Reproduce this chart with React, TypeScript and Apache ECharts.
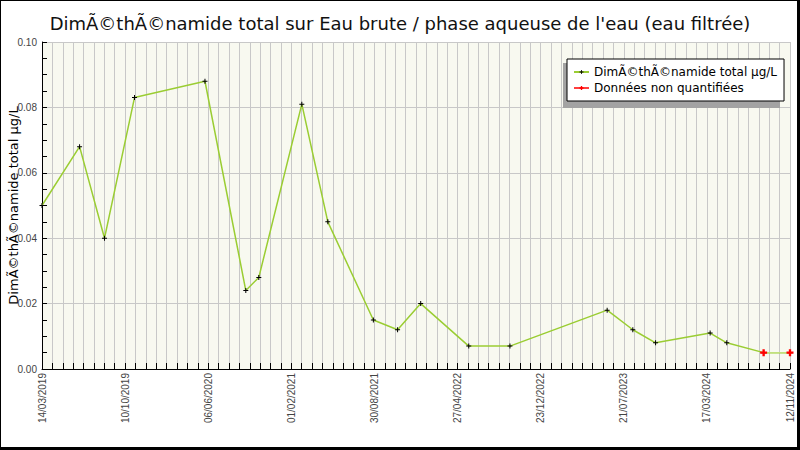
import { useEffect, useRef } from 'react'
import * as echarts from 'echarts'

// measurement dates and values (µg/L)
const dates = [
  '2019-03-14', '2019-06-26', '2019-09-03', '2019-11-25', '2020-06-07',
  '2020-09-28', '2020-11-03', '2021-03-02', '2021-05-13', '2021-09-16',
  '2021-11-22', '2022-01-25', '2022-06-07', '2022-09-29', '2023-06-25',
  '2023-09-04', '2023-11-06', '2024-04-05', '2024-05-21',
]
const values = [
  0.05, 0.068, 0.04, 0.083, 0.088,
  0.024, 0.028, 0.081, 0.045, 0.015,
  0.012, 0.02, 0.007, 0.007, 0.018,
  0.012, 0.008, 0.011, 0.008,
]
// non quantified results
const nqDates = ['2024-08-31', '2024-11-12']
const nqValues = [0.005, 0.005]

const xLabels = [
  '14/03/2019', '10/10/2019', '06/06/2020', '01/02/2021', '30/08/2021',
  '27/04/2022', '23/12/2022', '21/07/2023', '17/03/2024', '12/11/2024',
]
const yTicks = [0, 0.02, 0.04, 0.06, 0.08, 0.1]

const seriesName = 'DimÃ©thÃ©namide total µg/L'
const nqName = 'Données non quantifiées'
const title = "DimÃ©thÃ©namide total sur Eau brute / phase aqueuse de l'eau (eau filtrée)"

const start = Date.parse('2019-03-14')
const dayOf = (s: string) => (Date.parse(s) - start) / 86400000
const axisEnd = dayOf('2024-11-12')
const minorPerLabel = 8
const step = axisEnd / ((xLabels.length - 1) * minorPerLabel)

const cross = 'path://M2,0H3V2H5V3H3V5H2V3H0V2H2Z'
const bigCross = 'path://M2,0H4V2H6V4H4V6H2V4H0V2H2Z'

export default function App() {
  const ref = useRef<HTMLDivElement>(null)

  useEffect(() => {
    if (!ref.current) return
    const chart = echarts.init(ref.current, undefined, { renderer: 'svg' })

    const main = dates.map((d, i) => [dayOf(d), values[i]])
    const nq = nqDates.map((d, i) => [dayOf(d), nqValues[i]])

    chart.setOption({
      animation: false,
      backgroundColor: '#fff',
      title: {
        text: title,
        left: 'center',
        top: 9,
        textStyle: { fontFamily: 'DejaVu Sans', fontSize: 18, fontWeight: 'normal', color: '#111' },
      },
      legend: {
        orient: 'vertical',
        left: 567,
        top: 59,
        backgroundColor: '#fff',
        borderColor: '#000',
        borderWidth: 1,
        borderRadius: 0,
        padding: [7, 7, 7, 6],
        itemWidth: 15,
        itemHeight: 5,
        itemGap: 4,
        textStyle: { fontFamily: 'DejaVu Sans', fontSize: 12, color: '#000' },
        data: [
          { name: seriesName },
          { name: nqName, lineStyle: { color: '#f00', width: 1.5, opacity: 1 } },
        ],
      },
      graphic: [
        { type: 'rect', z: 3, shape: { x: 563, y: 63, width: 217, height: 45 }, style: { fill: '#a3a3a3' } },
        { type: 'rect', z: 10, shape: { x: 0, y: 0, width: 800, height: 1 }, style: { fill: '#000' } },
        { type: 'rect', z: 10, shape: { x: 0, y: 0, width: 1, height: 450 }, style: { fill: '#000' } },
        { type: 'rect', z: 10, shape: { x: 797, y: 0, width: 3, height: 450 }, style: { fill: '#000' } },
        { type: 'rect', z: 10, shape: { x: 0, y: 447, width: 800, height: 3 }, style: { fill: '#000' } },
      ],
      grid: {
        left: 42,
        right: 10,
        top: 42,
        bottom: 81,
        containLabel: false,
        outerBoundsMode: 'none',
        show: true,
        backgroundColor: '#f8f9f0',
        borderWidth: 0,
      },
      xAxis: {
        type: 'value',
        min: 0,
        max: axisEnd,
        interval: step,
        axisLine: { lineStyle: { color: '#000', width: 1 } },
        axisTick: { inside: true, length: 6, lineStyle: { color: '#000' } },
        splitLine: { show: true, lineStyle: { color: '#c8c8c8', width: 1 } },
        axisLabel: {
          rotate: 90,
          margin: 4,
          fontFamily: 'Liberation Sans',
          fontSize: 10,
          color: '#444',
          formatter: (v: number) => {
            const i = Math.round(v / step)
            return i % minorPerLabel === 0 ? xLabels[i / minorPerLabel] ?? '' : ''
          },
        },
      },
      yAxis: {
        type: 'value',
        min: yTicks[0],
        max: yTicks[yTicks.length - 1],
        interval: 0.02,
        name: seriesName,
        nameLocation: 'middle',
        nameGap: 22,
        nameMoveOverlap: false,
        nameTextStyle: { fontFamily: 'DejaVu Sans', fontSize: 13, color: '#000' },
        axisLine: { show: true, lineStyle: { color: '#000', width: 1 } },
        axisTick: { inside: true, length: 5, lineStyle: { color: '#000' } },
        minorTick: { show: true, splitNumber: 4, length: 5, lineStyle: { color: '#000' } },
        splitLine: { show: true, lineStyle: { color: '#c8c8c8', width: 1 } },
        axisLabel: {
          margin: 5,
          fontFamily: 'Liberation Sans',
          fontSize: 10,
          color: '#444',
          formatter: (v: number) => v.toFixed(2),
        },
      },
      series: [
        {
          name: seriesName,
          type: 'line',
          data: [...main, ...nq],
          symbol: cross,
          symbolSize: 5,
          itemStyle: { color: '#000' },
          lineStyle: { color: '#9acd32', width: 1.5 },
          z: 2,
        },
        {
          name: nqName,
          type: 'line',
          data: nq,
          symbol: bigCross,
          symbolSize: 7,
          itemStyle: { color: '#f00' },
          lineStyle: { color: '#c8e48a', width: 1 },
          z: 3,
        },
      ],
    })

    return () => chart.dispose()
  }, [])

  return <div ref={ref} style={{ position: 'absolute', left: 0, top: 0, width: 800, height: 450 }} />
}
